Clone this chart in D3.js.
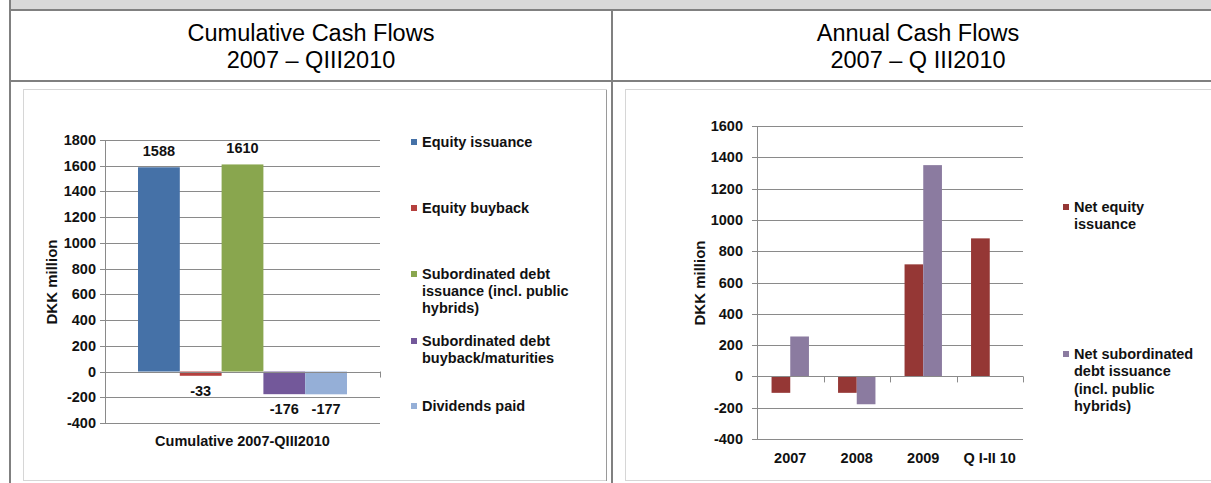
<!DOCTYPE html>
<html><head><meta charset="utf-8">
<script src="https://cdn.jsdelivr.net/npm/d3@7"></script>
<style>
html,body{margin:0;padding:0;background:#fff;}
svg{display:block;}
text{font-family:"Liberation Sans",Arial,sans-serif;}
</style></head>
<body>
<svg id="c" width="1211" height="483"></svg>
<script>
// ---------- data ----------
const cumCategories = ["Cumulative 2007-QIII2010"];
const cumSeries = ["Equity issuance","Equity buyback","Subordinated debt issuance (incl. public hybrids)","Subordinated debt buyback/maturities","Dividends paid"];
const cumValues = [1588, -33, 1610, -176, -177];
const cumLegendLines = [["Equity issuance"],["Equity buyback"],["Subordinated debt","issuance (incl. public","hybrids)"],["Subordinated debt","buyback/maturities"],["Dividends paid"]];
const cumColors = ["#4571a7","#b5403e","#89a64e","#73589a","#95afd7"];
const cumTicks = [-400,-200,0,200,400,600,800,1000,1200,1400,1600,1800];

const annCategories = ["2007","2008","2009","Q I-II 10"];
const annSeries = ["Net equity issuance","Net subordinated debt issuance (incl. public hybrids)"];
const netEquity = [-105, -105, 716, 882];
const netSubDebt = [255, -178, 1350, 0];
const annLegendLines = [["Net equity","issuance"],["Net subordinated","debt issuance","(incl. public","hybrids)"]];
const annColors = ["#953735","#8b7ba0"];
const annTicks = [-400,-200,0,200,400,600,800,1000,1200,1400,1600];

const headers = [["Cumulative Cash Flows","2007 \u2013 QIII2010"],["Annual Cash Flows","2007 \u2013 Q III2010"]];
const yTitle = "DKK million";

// ---------- frame ----------
const svg = d3.select("#c");
const txt = "#111";
const border = "#808080";
svg.append("rect").attr("x",11).attr("y",0).attr("width",1200).attr("height",9).attr("fill","#d9d9d9");
// chart frames
svg.append("rect").attr("x",23.5).attr("y",89.5).attr("width",583).attr("height",391).attr("fill","#fff").attr("stroke","#d6d6d6");
svg.append("line").attr("x1",606.5).attr("x2",606.5).attr("y1",90).attr("y2",481).attr("stroke","#9a9a9a");
svg.append("rect").attr("x",625.5).attr("y",89.5).attr("width",600).attr("height",391).attr("fill","#fff").attr("stroke","#d6d6d6");
// table lines
svg.append("rect").attr("x",9).attr("y",9).attr("width",1202).attr("height",2).attr("fill",border);
svg.append("rect").attr("x",9).attr("y",80).attr("width",1202).attr("height",2).attr("fill",border);
svg.append("rect").attr("x",9).attr("y",0).attr("width",2).attr("height",483).attr("fill",border);
svg.append("rect").attr("x",611).attr("y",9).attr("width",2).attr("height",474).attr("fill",border);

// headers
[[311,headers[0]],[918,headers[1]]].forEach(([cx,lines])=>{
  lines.forEach((l,i)=>{
    svg.append("text").attr("x",cx).attr("y",41+i*27).attr("text-anchor","middle")
      .attr("font-size",23.5).attr("fill","#000").text(l);
  });
});

const fs = 14.5;
function drawYAxis(g, y, x0, x1, ticks, labelX){
  ticks.forEach(t=>{
    g.append("line").attr("x1",x0-5).attr("x2",x1).attr("y1",Math.round(y(t))+0.5).attr("y2",Math.round(y(t))+0.5)
      .attr("stroke","#8a8a8a");
    g.append("text").attr("x",labelX).attr("y",y(t)+5).attr("text-anchor","end").attr("font-size",fs)
      .attr("font-weight","bold").attr("fill",txt).text(String(t));
  });
  g.append("line").attr("x1",x0+0.5).attr("x2",x0+0.5).attr("y1",y(ticks[ticks.length-1])).attr("y2",y(ticks[0]))
    .attr("stroke","#8a8a8a");
}

// ---------- left chart ----------
{
  const g = svg.append("g");
  const y = d3.scaleLinear().domain([-400,1800]).range([423,140]);
  const x0 = d3.scaleBand().domain(cumCategories).range([105,380]).paddingInner(0).paddingOuter(0.158);
  const x1 = d3.scaleBand().domain(cumSeries).range([0,x0.bandwidth()]).padding(0);
  drawYAxis(g, y, 105, 380, cumTicks, 96);
  cumSeries.forEach((s,i)=>{
    const v = cumValues[i];
    const bx = x0(cumCategories[0]) + x1(s);
    g.append("rect").attr("x",bx).attr("width",x1.bandwidth())
      .attr("y",y(Math.max(0,v))).attr("height",Math.abs(y(v)-y(0))).attr("fill",cumColors[i]);
    g.append("text").attr("x",bx+x1.bandwidth()/2).attr("y", v>=0 ? y(v)-11 : y(v)+20)
      .attr("text-anchor","middle").attr("font-size",fs).attr("font-weight","bold").attr("fill",txt).text(String(v));
  });
  g.append("line").attr("x1",105).attr("x2",380).attr("y1",Math.round(y(0))+0.5).attr("y2",Math.round(y(0))+0.5).attr("stroke","#8a8a8a");
  [105,380].forEach(xx=>g.append("line").attr("x1",xx+0.5).attr("x2",xx+0.5).attr("y1",y(0)).attr("y2",y(0)+6).attr("stroke","#8a8a8a"));
  g.append("text").attr("x",242.5).attr("y",446).attr("text-anchor","middle").attr("font-size",fs).attr("font-weight","bold").attr("fill",txt).text(cumCategories[0]);
  g.append("text").attr("transform","translate(57,282) rotate(-90)").attr("text-anchor","middle").attr("font-size",15).attr("font-weight","bold").attr("fill",txt).text(yTitle);
  const legY = [147,213,279,346,411];
  cumLegendLines.forEach((lines,i)=>{
    g.append("rect").attr("x",411).attr("y",legY[i]-8).attr("width",6).attr("height",6).attr("fill",cumColors[i]);
    lines.forEach((l,j)=>{
      g.append("text").attr("x",422).attr("y",legY[i]+j*17).attr("font-size",fs).attr("font-weight","bold").attr("fill",txt).text(l);
    });
  });
}

// ---------- right chart ----------
{
  const g = svg.append("g");
  const y = d3.scaleLinear().domain([-400,1600]).range([439,126]);
  const x0 = d3.scaleBand().domain(annCategories).range([757,1023]).padding(0);
  const x1 = d3.scaleBand().domain(annSeries).range([0,x0.bandwidth()]).paddingInner(0).paddingOuter(0.778);
  drawYAxis(g, y, 757, 1023, annTicks, 743);
  const vals = [netEquity, netSubDebt];
  annCategories.forEach((c,ci)=>{
    annSeries.forEach((s,si)=>{
      const v = vals[si][ci];
      g.append("rect").attr("x",x0(c)+x1(s)).attr("width",x1.bandwidth())
        .attr("y",y(Math.max(0,v))).attr("height",Math.abs(y(v)-y(0))).attr("fill",annColors[si]);
    });
    g.append("text").attr("x",x0(c)+x0.bandwidth()/2).attr("y",463).attr("text-anchor","middle")
      .attr("font-size",fs).attr("font-weight","bold").attr("fill",txt).text(c);
  });
  g.append("line").attr("x1",757).attr("x2",1023).attr("y1",Math.round(y(0))+0.5).attr("y2",Math.round(y(0))+0.5).attr("stroke","#8a8a8a");
  annCategories.forEach(c=>{
    const xx = Math.round(x0(c)+x0.bandwidth());
    g.append("line").attr("x1",xx+0.5).attr("x2",xx+0.5).attr("y1",y(0)).attr("y2",y(0)+6).attr("stroke","#8a8a8a");
  });
  g.append("text").attr("transform","translate(705,283) rotate(-90)").attr("text-anchor","middle").attr("font-size",15).attr("font-weight","bold").attr("fill",txt).text(yTitle);
  const legY = [212,359];
  annLegendLines.forEach((lines,i)=>{
    g.append("rect").attr("x",1063).attr("y",legY[i]-8).attr("width",6).attr("height",6).attr("fill",annColors[i]);
    lines.forEach((l,j)=>{
      g.append("text").attr("x",1074).attr("y",legY[i]+j*17.3).attr("font-size",fs).attr("font-weight","bold").attr("fill",txt).text(l);
    });
  });
}
</script>
</body></html>
